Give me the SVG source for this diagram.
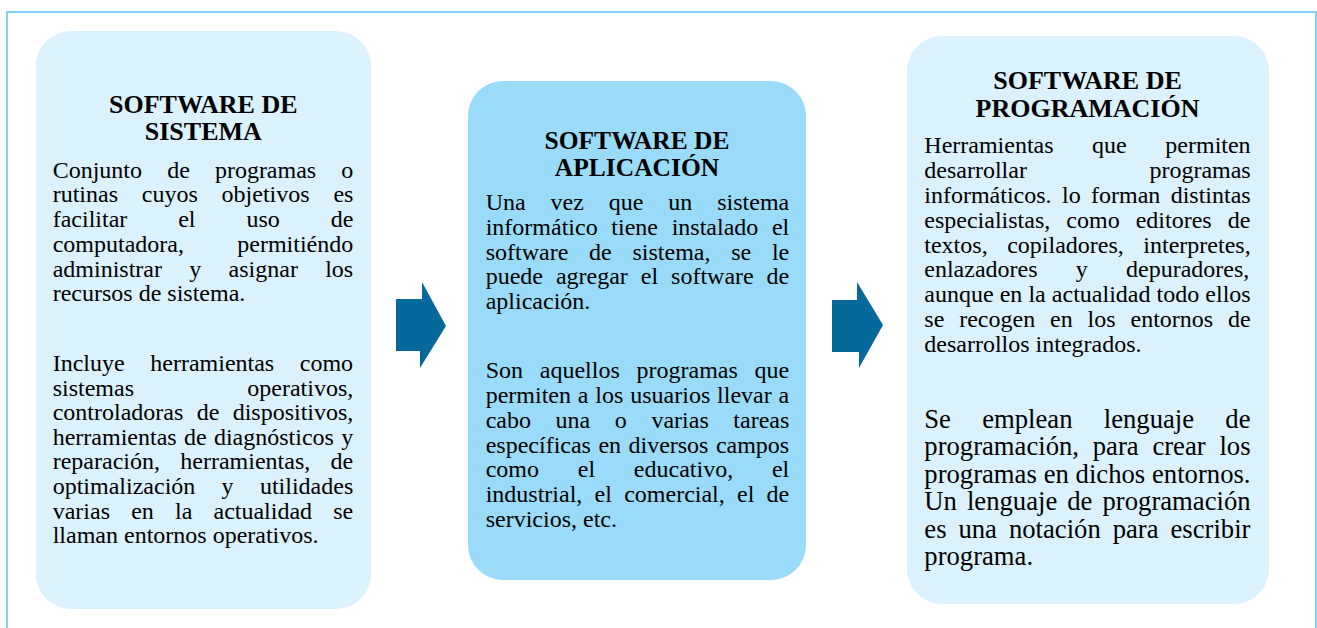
<svg xmlns="http://www.w3.org/2000/svg" width="1317" height="628" viewBox="0 0 1317 628">
<style>
.title{font-family:"Liberation Serif","Times New Roman",serif;font-weight:bold;font-size:26px;fill:#000;text-anchor:middle}
.title2{font-size:25.5px}
.body{font-family:"Liberation Serif","Times New Roman",serif;font-size:24px;fill:#000}
.big{font-family:"Liberation Serif","Times New Roman",serif;font-size:26.67px;fill:#000}
.light{fill:#dbf1fc}
.mid{fill:#99dbf8}
.arrow{fill:#07699b}
</style>
<rect width="1317" height="628" fill="#fff"/>
<path d="M7,628 V12 H1316 V628" fill="none" stroke="#5bc4f1" stroke-width="1.5"/>

<g id="connectors">
<polygon class="arrow" points="396,299 422,299 422,282 446,326 420,368 420,351 396,351"/>
<polygon class="arrow" points="832,300 857,300 857,282 883,325 859,368 859,352 832,352"/>
</g>

<g id="node-sistema">
<rect class="light" x="36" y="31" width="335" height="578" rx="35"/>
<text class="title" x="203.3" y="113">SOFTWARE DE</text>
<text class="title" x="203.3" y="140">SISTEMA</text>
<text class="body" x="52.7" y="177.7" word-spacing="19.1">Conjunto de programas o</text>
<text class="body" x="52.7" y="202.4" word-spacing="17.8">rutinas cuyos objetivos es</text>
<text class="body" x="52.7" y="227.1" word-spacing="44.9">facilitar el uso de</text>
<text class="body" x="52.7" y="251.8" word-spacing="47.3">computadora, permitiéndo</text>
<text class="body" x="52.7" y="276.5" word-spacing="21.3">administrar y asignar los</text>
<text class="body" x="52.7" y="301.2">recursos de sistema.</text>
<text class="body" x="52.7" y="371" word-spacing="19.6">Incluye herramientas como</text>
<text class="body" x="52.7" y="395.6" word-spacing="107.3">sistemas operativos,</text>
<text class="body" x="52.7" y="420.2" word-spacing="7.35">controladoras de dispositivos,</text>
<text class="body" x="52.7" y="444.8" word-spacing="1.33">herramientas de diagnósticos y</text>
<text class="body" x="52.7" y="469.4" word-spacing="14.35">reparación, herramientas, de</text>
<text class="body" x="52.7" y="494" word-spacing="20.3">optimalización y utilidades</text>
<text class="body" x="52.7" y="518.6" word-spacing="15.17">varias en la actualidad se</text>
<text class="body" x="52.7" y="543.2">llaman entornos operativos.</text>
</g>

<g id="node-aplicacion">
<rect class="mid" x="468" y="81" width="338" height="499" rx="35"/>
<text class="title title2" x="637" y="148.5">SOFTWARE DE</text>
<text class="title title2" x="637" y="175.5">APLICACIÓN</text>
<text class="body" x="485.7" y="210" word-spacing="18.9">Una vez que un sistema</text>
<text class="body" x="485.7" y="234.8" word-spacing="7.67">informático tiene instalado el</text>
<text class="body" x="485.7" y="259.6" word-spacing="14.75">software de sistema, se le</text>
<text class="body" x="485.7" y="284.4" word-spacing="6.93">puede agregar el software de</text>
<text class="body" x="485.7" y="309.2">aplicación.</text>
<text class="body" x="485.7" y="378.3" word-spacing="10.77">Son aquellos programas que</text>
<text class="body" x="485.7" y="403" word-spacing="0.86">permiten a los usuarios llevar a</text>
<text class="body" x="485.7" y="427.8" word-spacing="18.6">cabo una o varias tareas</text>
<text class="body" x="485.7" y="452.5" word-spacing="1.43">específicas en diversos campos</text>
<text class="body" x="485.7" y="477.3" word-spacing="32.77">como el educativo, el</text>
<text class="body" x="485.7" y="502" word-spacing="6.25">industrial, el comercial, el de</text>
<text class="body" x="485.7" y="526.8">servicios, etc.</text>
</g>

<g id="node-programacion">
<rect class="light" x="907" y="36" width="362" height="568" rx="35"/>
<text class="title" x="1087.5" y="89.3">SOFTWARE DE</text>
<text class="title" x="1087.5" y="116.7">PROGRAMACIÓN</text>
<text class="body" x="924.3" y="153.3" word-spacing="32.55">Herramientas que permiten</text>
<text class="body" x="924.3" y="178.1" word-spacing="116.5">desarrollar programas</text>
<text class="body" x="924.3" y="202.9" word-spacing="4.37">informáticos. lo forman distintas</text>
<text class="body" x="924.3" y="227.7" word-spacing="10.07">especialistas, como editores de</text>
<text class="body" x="924.3" y="252.5" word-spacing="13.55">textos, copiladores, interpretes,</text>
<text class="body" x="924.3" y="277.3" word-spacing="32.25">enlazadores y depuradores,</text>
<text class="body" x="924.3" y="302.1" word-spacing="0.1">aunque en la actualidad todo ellos</text>
<text class="body" x="924.3" y="326.9" word-spacing="8.9">se recogen en los entornos de</text>
<text class="body" x="924.3" y="351.7">desarrollos integrados.</text>
<text class="big" x="924.3" y="427.5" word-spacing="24.6">Se emplean lenguaje de</text>
<text class="big" x="924.3" y="455" word-spacing="7.1">programación, para crear los</text>
<text class="big" x="924.3" y="482.5" word-spacing="0.16">programas en dichos entornos.</text>
<text class="big" x="924.3" y="510" word-spacing="3.4">Un lenguaje de programación</text>
<text class="big" x="924.3" y="537.5" word-spacing="5.3">es una notación para escribir</text>
<text class="big" x="924.3" y="565">programa.</text>
</g>
</svg>
